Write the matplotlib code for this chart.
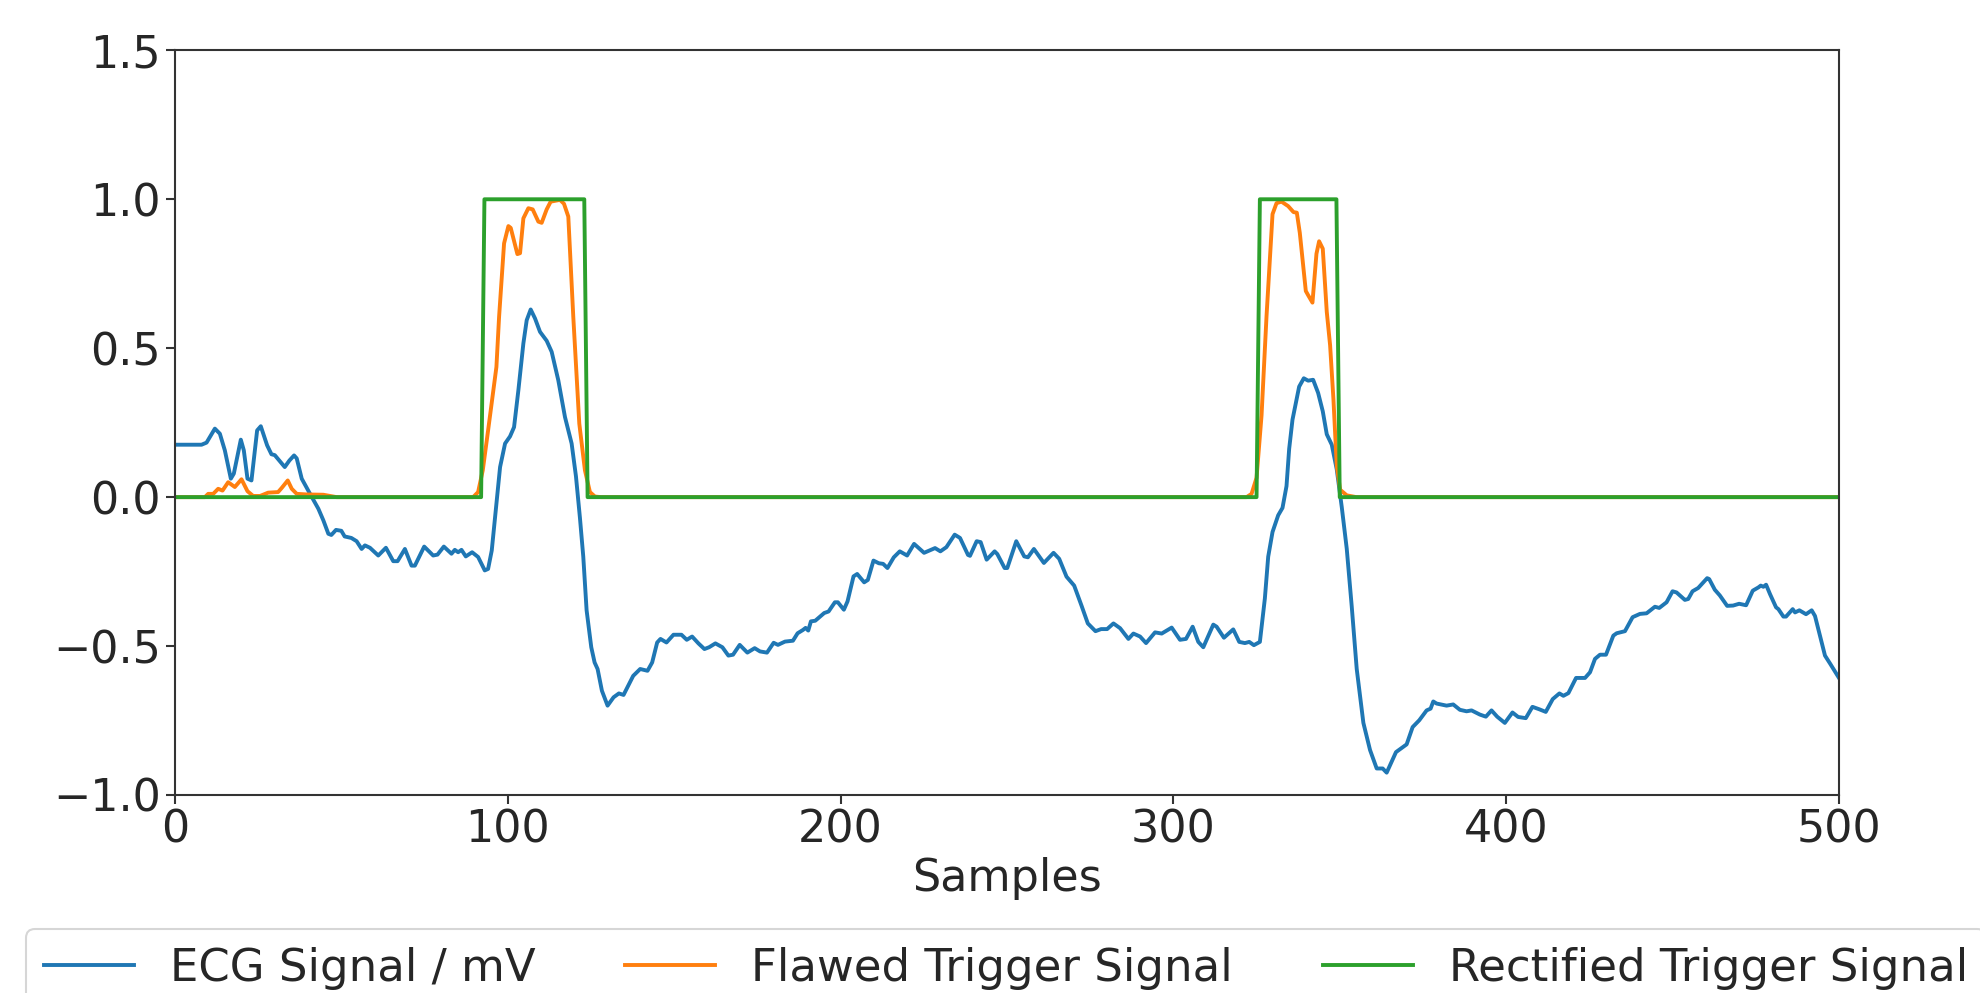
import numpy as np
import matplotlib
matplotlib.use("Agg")
import matplotlib.pyplot as plt

# ECG trace (sample index, mV)
ecg_x = [0, 8.0, 9.5, 12.0, 13.5, 15.0, 16.8, 17.7, 19.8, 20.7, 21.8, 23.0, 24.7, 25.8, 27.7, 29.0,
         30.0, 33.0, 34.4, 35.8, 36.6, 38.1, 40.6, 43.1, 44.6, 46.1, 47.0, 48.4, 50.0, 51.0, 53.0,
         54.6, 56.1, 57.1, 58.6, 61.1, 63.4, 65.6, 66.9, 69.1, 71.1, 72.1, 74.9, 77.6, 78.9, 80.8,
         83.1, 84.1, 85.1, 86.1, 87.4, 89.3, 91.1, 93.1, 94.1, 95.2, 96.2, 97.7, 99.2, 100.7, 101.9,
         103.2, 104.7, 105.7, 106.9, 108.2, 109.7, 111.7, 113.2, 115.2, 117.2, 119.2, 120.5, 121.7,
         122.7, 123.7, 125.1, 126.1, 127.0, 128.3, 130.0, 131.8, 133.4, 134.8, 137.7, 139.8, 142.0,
         143.4, 144.9, 145.9, 147.7, 149.8, 152.2, 153.8, 155.4, 157.3, 159.1, 160.5, 162.4, 164.5,
         166.3, 167.7, 169.7, 172.0, 174.2, 175.8, 177.9, 179.9, 181.2, 183.3, 185.7, 187.1, 188.7,
         189.5, 190.3, 191.1, 192.4, 195.1, 196.4, 198.3, 199.2, 201.0, 202.1, 203.9, 205.0, 207.1,
         208.2, 209.9, 211.5, 212.8, 214.1, 216.0, 217.8, 220.0, 222.1, 225.1, 228.4, 230.0, 231.8,
         234.3, 235.9, 238.3, 238.9, 240.9, 242.1, 243.9, 246.3, 247.1, 249.3, 250.1, 252.8, 255.2,
         256.3, 258.1, 261.1, 264.0, 265.7, 267.9, 270.2, 272.4, 274.3, 276.6, 278.3, 280.1, 282.0,
         284.0, 286.5, 288.0, 290.0, 291.8, 294.5, 296.5, 299.5, 302.0, 303.8, 305.8, 307.5, 309.0,
         312.0, 313.0, 315.2, 318.0, 319.8, 321.5, 322.8, 324.2, 326.0, 327.5, 328.5, 329.8, 331.5,
         332.8, 334.0, 334.8, 335.8, 337.8, 339.2, 340.5, 342.0, 343.5, 344.9, 346.1, 347.6, 349.1,
         350.6, 352.1, 353.6, 355.1, 357.1, 359.1, 361.1, 362.9, 364.1, 366.9, 368.6, 370.1, 371.9,
         373.9, 376.1, 377.3, 378.1, 379.1, 382.1, 384.1, 386.1, 388.1, 389.6, 392.1, 393.9, 395.6,
         397.3, 399.6, 401.9, 403.6, 405.9, 407.9, 409.9, 411.9, 414.0, 416.0, 417.2, 418.7, 421.0,
         423.7, 425.2, 426.7, 428.2, 430.0, 432.2, 433.2, 435.7, 438.0, 440.2, 442.2, 444.7, 446.0,
         448.2, 450.0, 451.2, 453.7, 454.7, 456.0, 457.7, 460.4, 461.0, 462.7, 464.2, 466.4, 468.2,
         470.0, 472.1, 474.1, 475.8, 476.5, 477.3, 478.1, 479.3, 481.1, 481.8, 483.3, 484.1, 486.1,
         486.8, 488.1, 490.1, 491.8, 492.8, 495.8, 497.4, 500.0]
ecg_y = [0.176, 0.176, 0.183, 0.23, 0.213, 0.157, 0.062, 0.079, 0.193, 0.157, 0.062, 0.056, 0.224,
         0.238, 0.174, 0.144, 0.141, 0.101, 0.123, 0.140, 0.13, 0.062, 0.011, -0.039, -0.078, -0.123,
         -0.127, -0.110, -0.113, -0.132, -0.137, -0.148, -0.174, -0.162, -0.170, -0.196, -0.170,
         -0.215, -0.215, -0.174, -0.230, -0.230, -0.166, -0.196, -0.193, -0.166, -0.190, -0.177,
         -0.185, -0.177, -0.199, -0.185, -0.201, -0.246, -0.241, -0.179, -0.067, 0.101, 0.180, 0.204,
         0.235, 0.359, 0.516, 0.594, 0.630, 0.600, 0.555, 0.525, 0.488, 0.392, 0.269, 0.180, 0.07,
         -0.07, -0.20, -0.38, -0.504, -0.555, -0.577, -0.650, -0.700, -0.672, -0.659, -0.664, -0.600,
         -0.577, -0.583, -0.555, -0.488, -0.476, -0.488, -0.462, -0.462, -0.479, -0.468, -0.491,
         -0.510, -0.504, -0.491, -0.504, -0.532, -0.529, -0.496, -0.522, -0.507, -0.518, -0.522,
         -0.489, -0.496, -0.485, -0.482, -0.457, -0.446, -0.439, -0.448, -0.417, -0.415, -0.389,
         -0.384, -0.353, -0.353, -0.378, -0.350, -0.266, -0.258, -0.286, -0.278, -0.213, -0.222,
         -0.224, -0.238, -0.202, -0.182, -0.196, -0.157, -0.187, -0.171, -0.182, -0.168, -0.126,
         -0.137, -0.194, -0.197, -0.148, -0.151, -0.210, -0.182, -0.191, -0.238, -0.238, -0.148,
         -0.199, -0.202, -0.174, -0.221, -0.187, -0.207, -0.267, -0.297, -0.364, -0.424, -0.450,
         -0.443, -0.443, -0.424, -0.440, -0.476, -0.458, -0.468, -0.490, -0.454, -0.458, -0.438,
         -0.479, -0.476, -0.435, -0.486, -0.504, -0.428, -0.435, -0.472, -0.444, -0.486, -0.490,
         -0.486, -0.497, -0.486, -0.340, -0.200, -0.117, -0.061, -0.036, 0.037, 0.162, 0.260, 0.371,
         0.399, 0.391, 0.394, 0.350, 0.288, 0.211, 0.176, 0.093, -0.033, -0.173, -0.367, -0.577,
         -0.758, -0.849, -0.911, -0.911, -0.925, -0.856, -0.842, -0.830, -0.772, -0.749, -0.716,
         -0.710, -0.686, -0.693, -0.700, -0.696, -0.714, -0.719, -0.716, -0.730, -0.737, -0.716,
         -0.737, -0.758, -0.723, -0.738, -0.742, -0.704, -0.712, -0.721, -0.678, -0.659, -0.667,
         -0.658, -0.607, -0.607, -0.588, -0.543, -0.529, -0.529, -0.465, -0.457, -0.450, -0.403,
         -0.392, -0.390, -0.368, -0.372, -0.353, -0.316, -0.320, -0.345, -0.342, -0.316, -0.305,
         -0.272, -0.275, -0.311, -0.330, -0.365, -0.364, -0.358, -0.363, -0.314, -0.303, -0.297,
         -0.301, -0.294, -0.326, -0.370, -0.376, -0.401, -0.401, -0.376, -0.387, -0.380, -0.393,
         -0.380, -0.399, -0.532, -0.560, -0.607]

# flawed trigger (normalised)
flawed_x = [0, 9.0, 10.0, 11.5, 13.0, 14.3, 16.0, 18.0, 20.0, 21.8, 23.5, 25.6, 28.0, 31.0, 32.1,
            33.9, 35.1, 36.6, 39.6, 44.6, 48.6, 89.6, 91.1, 92.5, 94.1, 96.6, 97.4, 98.9, 100.2,
            100.9, 102.9, 103.7, 104.7, 106.2, 107.5, 109.2, 110.2, 111.7, 112.9, 115.7, 116.9,
            118.2, 119.7, 121.5, 123.2, 124.7, 126.2, 128.0, 322.0, 323.5, 325.0, 326.5, 328.0,
            329.8, 331.0, 332.5, 334.5, 336.1, 337.1, 338.0, 339.8, 340.5, 341.8, 343.0, 343.8,
            344.9, 346.1, 347.1, 348.1, 349.1, 350.1, 352.1, 355.0, 500.0]
flawed_y = [0, 0, 0.011, 0.011, 0.028, 0.022, 0.050, 0.034, 0.060, 0.020, 0.004, 0.004, 0.015, 0.017,
            0.031, 0.056, 0.028, 0.011, 0.009, 0.008, 0.0, 0.0, 0.017, 0.090, 0.224, 0.437, 0.605,
            0.852, 0.910, 0.904, 0.816, 0.819, 0.936, 0.970, 0.966, 0.925, 0.921, 0.966, 0.992, 0.998,
            0.985, 0.942, 0.605, 0.247, 0.090, 0.017, 0.002, 0.0, 0.0, 0.011, 0.065, 0.274, 0.608,
            0.950, 0.987, 0.992, 0.977, 0.957, 0.955, 0.887, 0.692, 0.678, 0.653, 0.817, 0.859, 0.834,
            0.622, 0.510, 0.329, 0.106, 0.025, 0.006, 0.0, 0.0]

# rectified trigger breakpoints
rect_x = [0, 92, 93, 123, 124, 325, 326, 349, 350, 500]
rect_y = [0, 0, 1, 1, 0, 0, 1, 1, 0, 0]

text_col = '#262626'
plt.rcParams['font.family'] = ['DejaVu Sans']
plt.rcParams['font.size'] = 32
plt.rcParams['text.color'] = text_col

fig = plt.figure(figsize=(19.81, 9.93), dpi=100)
ax = fig.add_axes([0.0883, 0.1994, 0.84, 0.7499])

ax.plot(ecg_x, ecg_y, color='#1f77b4', lw=2.8, label='ECG Signal / mV')
ax.plot(flawed_x, flawed_y, color='#ff7f0e', lw=2.8, label='Flawed Trigger Signal')
ax.plot(rect_x, rect_y, color='#2ca02c', lw=2.8, label='Rectified Trigger Signal')

ax.set_xlim(0, 500)
ax.set_ylim(-1.0, 1.5)
ax.set_xticks([0, 100, 200, 300, 400, 500])
ax.set_yticks([-1.0, -0.5, 0.0, 0.5, 1.0, 1.5])
ax.set_xlabel('Samples', color=text_col, labelpad=4)
ax.tick_params(length=6.5, width=1.5, colors='#333333', labelcolor=text_col, labelsize=32)
for s in ax.spines.values():
    s.set_color('#333333')
    s.set_linewidth(1.5)

leg = ax.legend(loc='upper center', bbox_to_anchor=(0.4995, -0.18), ncol=3, fontsize=32.4,
                frameon=True, fancybox=True, borderaxespad=0)
leg.get_frame().set_edgecolor('#cccccc')
leg.get_frame().set_linewidth(1.5)

fig.savefig('out.png', dpi=100)
